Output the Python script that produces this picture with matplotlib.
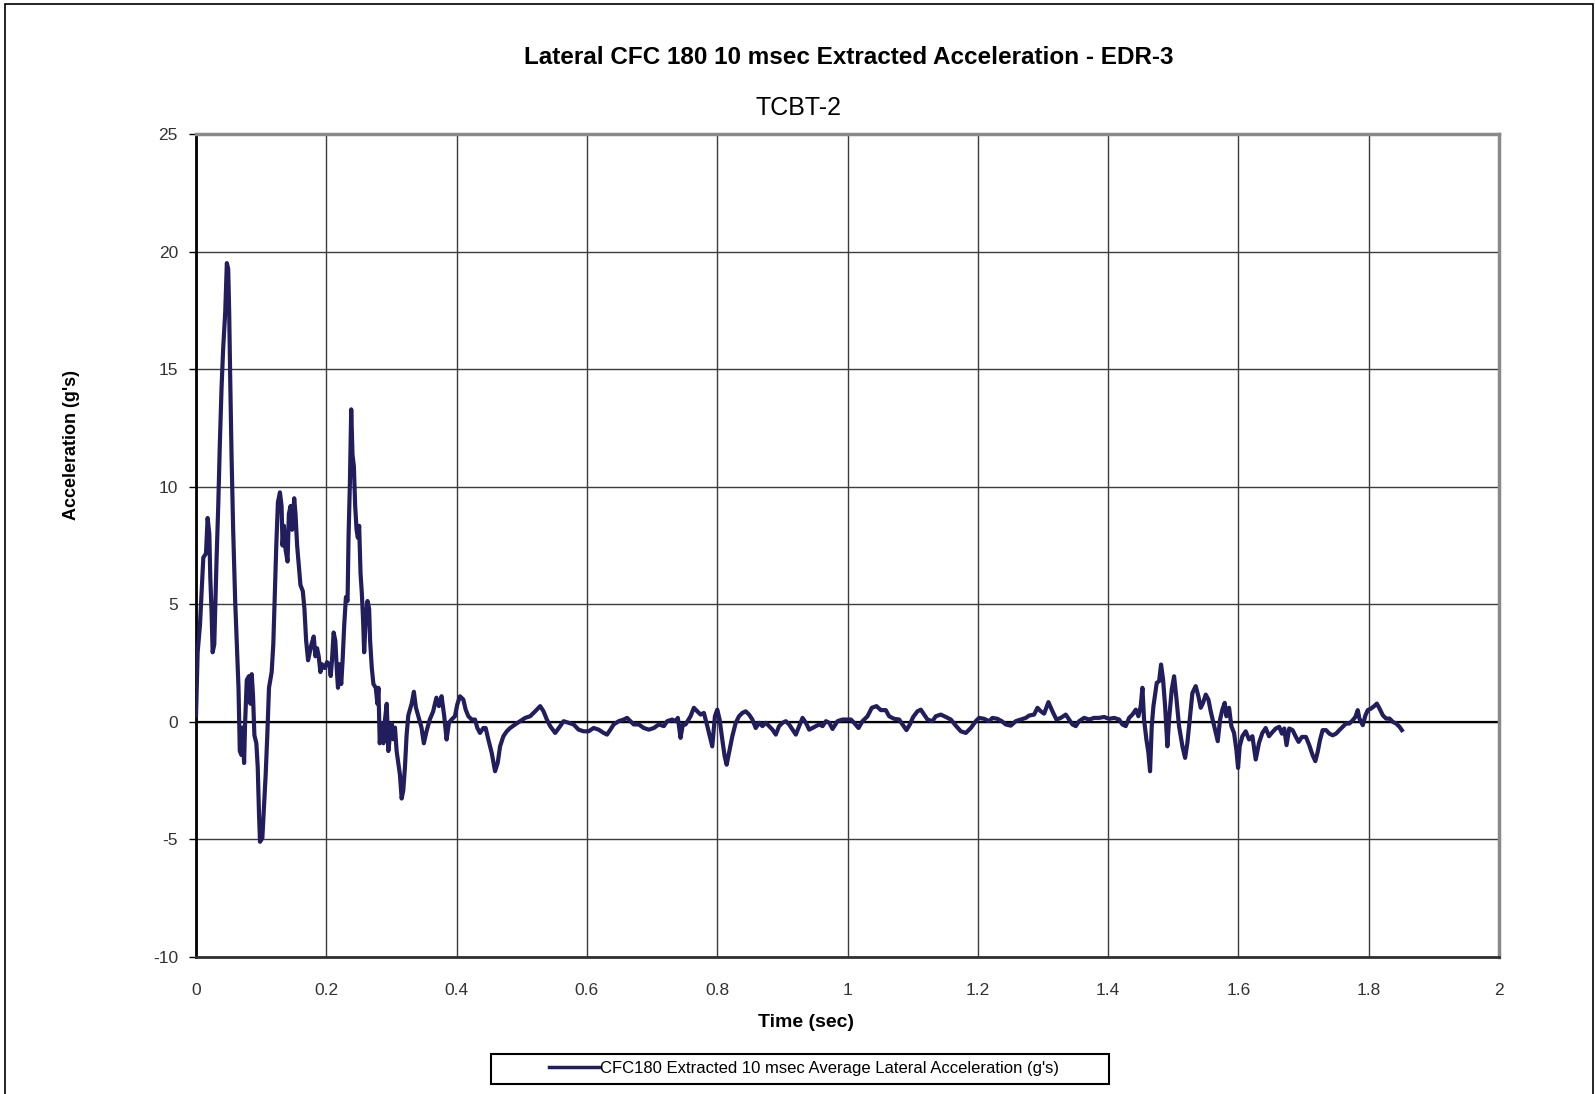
import matplotlib
matplotlib.use('Agg')
import matplotlib.pyplot as plt
from matplotlib.patches import Rectangle

plt.rcParams['font.family'] = ['Liberation Sans', 'DejaVu Sans']

# trace (time in s, acceleration in g's)
time_s = [
    0.0, 0.0025, 0.0061, 0.0092, 0.0112, 0.0153, 0.0178, 0.0204, 0.0219, 0.0239,
    0.0255, 0.028, 0.0295, 0.0316, 0.0341, 0.0366, 0.0392, 0.0417, 0.0448, 0.0473,
    0.0494, 0.0509, 0.0524, 0.0545, 0.057, 0.0601, 0.0626, 0.0652, 0.0672, 0.0697,
    0.0713, 0.0738, 0.0753, 0.0779, 0.0814, 0.0835, 0.0855, 0.0875, 0.0896, 0.0926,
    0.0947, 0.0967, 0.0982, 0.1018, 0.1043, 0.1069, 0.1094, 0.112, 0.1161, 0.1186,
    0.1206, 0.1232, 0.1257, 0.1288, 0.1313, 0.1328, 0.1349, 0.1374, 0.1405, 0.1425,
    0.1451, 0.1476, 0.1507, 0.1527, 0.1552, 0.1578, 0.1603, 0.1639, 0.1664, 0.169,
    0.172, 0.1746, 0.1771, 0.1807, 0.1832, 0.1858, 0.1883, 0.1909, 0.1934, 0.1975,
    0.2011, 0.2046, 0.2067, 0.2087, 0.2112, 0.2138, 0.2163, 0.2179, 0.2199, 0.2229,
    0.225, 0.2275, 0.2301, 0.2326, 0.2341, 0.2362, 0.2382, 0.2402, 0.2423, 0.2443,
    0.2464, 0.2484, 0.2504, 0.2525, 0.2545, 0.2565, 0.2581, 0.2606, 0.2632, 0.2657,
    0.2672, 0.2698, 0.2723, 0.2759, 0.2784, 0.28, 0.282, 0.285, 0.2876, 0.2901,
    0.2927, 0.2952, 0.2978, 0.3003, 0.3029, 0.3054, 0.3079, 0.3105, 0.313, 0.3156,
    0.3181, 0.3207, 0.3232, 0.3258, 0.3309, 0.3344, 0.3375, 0.341, 0.3461, 0.3497,
    0.3538, 0.3588, 0.3639, 0.369,
    0.3728, 0.3769, 0.381, 0.3846, 0.3882, 0.3923, 0.3974, 0.401, 0.4051, 0.4103,
    0.4139, 0.418, 0.4231, 0.4282, 0.4318, 0.4359, 0.441, 0.4446, 0.4487, 0.4539,
    0.459, 0.4631, 0.4667, 0.4718, 0.477, 0.4821, 0.4898, 0.4975, 0.5052, 0.5129,
    0.5206, 0.5283, 0.5334, 0.5385, 0.5436, 0.5513, 0.559, 0.5642, 0.5719, 0.5796,
    0.5872, 0.5949, 0.6026, 0.6103, 0.618, 0.6257, 0.6309, 0.636, 0.6411, 0.6488,
    0.6565, 0.6616, 0.6668, 0.6719, 0.6796, 0.6873, 0.695, 0.7027, 0.7104, 0.7181,
    0.7232, 0.7309, 0.736, 0.7396, 0.7437, 0.7473, 0.7514, 0.7591, 0.7642, 0.7694,
    0.7745, 0.7796, 0.7848, 0.7899, 0.7924, 0.7965, 0.8001, 0.8037, 0.8078, 0.8114,
    0.8145, 0.8181, 0.8232, 0.8284, 0.8335, 0.8386, 0.8437, 0.8489, 0.854, 0.8591,
    0.8643, 0.8694, 0.8745, 0.8797, 0.8848, 0.8899, 0.895, 0.9002, 0.9053, 0.9104,
    0.9156, 0.9207, 0.9258, 0.931, 0.9361, 0.9412, 0.9463, 0.9515, 0.9566, 0.9617,
    0.9669, 0.972,
    0.977, 0.9847, 0.9923, 1.0, 1.0051, 1.0102, 1.0169, 1.023, 1.0307, 1.0373,
    1.0445, 1.0512, 1.0588, 1.0639, 1.0716, 1.0793, 1.0844, 1.0905, 1.0957, 1.1008,
    1.1074, 1.1125, 1.1176, 1.1228, 1.1304, 1.1355, 1.1432, 1.1509, 1.1586, 1.1662,
    1.1739, 1.1816, 1.1893, 1.1969, 1.202, 1.2097, 1.2174, 1.2225, 1.2302, 1.2368,
    1.243, 1.2506, 1.2583, 1.266, 1.2737, 1.2788, 1.2864, 1.2916, 1.2967, 1.3018,
    1.3084, 1.3146, 1.3207, 1.3274, 1.335, 1.3401, 1.3453, 1.3504, 1.3555, 1.3632,
    1.3708, 1.3785, 1.3862, 1.3939, 1.4015, 1.4092, 1.4169, 1.422, 1.4271, 1.4322,
    1.4373, 1.4425, 1.4465, 1.4501, 1.4527, 1.4552, 1.4588, 1.4619, 1.4644, 1.467,
    1.4696, 1.4721, 1.4747, 1.4783, 1.4813, 1.4844, 1.4875, 1.491, 1.4936, 1.4977,
    1.5013, 1.5048, 1.5089, 1.5141, 1.5182, 1.5217, 1.5253, 1.5294, 1.5345, 1.5386,
    1.5422, 1.5458, 1.5499, 1.554, 1.5575, 1.5616, 1.5652, 1.5683, 1.5719, 1.5754,
    1.579, 1.5816, 1.5857, 1.5892, 1.5933, 1.5969, 1.5995, 1.602, 1.6061, 1.6112,
    1.6164, 1.6215, 1.6266, 1.6317, 1.6368, 1.6419, 1.647,
    1.6524, 1.6575, 1.6627, 1.6668, 1.6704, 1.6739, 1.678, 1.6832, 1.6883, 1.6924,
    1.6975, 1.7037, 1.7088, 1.714, 1.7181, 1.7217, 1.7252, 1.7293, 1.7345, 1.7396,
    1.7447, 1.7499, 1.755, 1.7601, 1.7652, 1.7704, 1.7755, 1.7796, 1.7832, 1.7858,
    1.7909, 1.795, 1.7986, 1.8037, 1.8089, 1.8125, 1.8166, 1.8217, 1.8268, 1.832,
    1.8371, 1.8422, 1.8473, 1.8509,
]
accel_g = [
    0.27, 2.96, 4.13, 5.82, 6.99, 7.16, 8.67, 8.0, 6.15, 4.64,
    2.96, 3.29, 4.81, 6.99, 9.18, 11.87, 14.22, 15.9, 17.41, 19.51,
    19.26, 17.41, 14.72, 11.36, 8.17, 5.14, 3.29, 1.45, -1.24, -1.41,
    -0.24, -1.75, -0.07, 1.78, 1.95, 0.77, 2.03, 1.11, -0.57, -0.91,
    -1.92, -3.93, -5.1, -4.94, -3.6, -2.25, -0.57, 1.45, 2.12, 3.29,
    5.14, 7.5, 9.34, 9.76, 9.18, 7.5, 8.34, 7.33, 6.82, 8.84,
    9.18, 8.17, 9.51, 8.84, 7.5, 6.66, 5.82, 5.56, 4.81, 3.46,
    2.62, 2.96, 3.29, 3.63, 2.79, 3.13, 2.79, 2.12, 2.45, 2.29,
    2.54, 2.45, 1.95, 2.62, 3.8, 3.46, 2.12, 1.45, 2.45, 1.61,
    2.62, 4.13, 5.31, 5.14, 7.83, 10.18, 13.29, 11.36, 10.86, 9.18,
    8.17, 7.83, 8.34, 6.32, 5.48, 4.3, 2.96, 4.47, 5.14, 4.81,
    3.46, 2.29, 1.61, 1.45, 0.77, 1.45, -0.91, -0.07, -0.91, 0.1,
    0.77, -1.24, -0.57, -0.07, -0.74, -0.24, -1.24, -1.75, -2.25, -3.26,
    -2.92, -1.92, -0.57, 0.27, 0.77, 1.28, 0.61, 0.27, -0.24, -0.91,
    -0.4, 0.1, 0.44, 1.03,
    0.67, 1.09, 0.24, -0.75, -0.04, 0.1, 0.24, 0.74, 1.09, 0.95,
    0.52, 0.24, 0.1, 0.1, -0.26, -0.47, -0.26, -0.26, -0.75, -1.32,
    -2.1, -1.74, -1.04, -0.61, -0.4, -0.26, -0.11, 0.03, 0.17, 0.24,
    0.45, 0.67, 0.45, 0.1, -0.18, -0.47, -0.18, 0.03, -0.04, -0.11,
    -0.33, -0.4, -0.4, -0.26, -0.33, -0.47, -0.54, -0.33, -0.11, 0.03,
    0.1, 0.17, 0.03, -0.11, -0.11, -0.26, -0.33, -0.26, -0.11, -0.18,
    0.03, 0.1, 0.03, 0.17, -0.68, -0.11, -0.11, 0.24, 0.6, 0.45,
    0.31, 0.38, -0.18, -0.75, -1.04, 0.24, 0.52, 0.1, -0.75, -1.46,
    -1.82, -1.32, -0.61, -0.04, 0.24, 0.38, 0.45, 0.31, 0.1, -0.26,
    -0.04, -0.18, -0.04, -0.18, -0.33, -0.54, -0.18, -0.04, 0.03, -0.11,
    -0.33, -0.54, -0.18, 0.17, -0.04, -0.33, -0.26, -0.18, -0.11, -0.18,
    0.03, -0.04,
    -0.3, 0.03, 0.1, 0.1, 0.1, -0.04, -0.26, 0.03, 0.24, 0.6,
    0.67, 0.5, 0.5, 0.24, 0.13, 0.1, -0.11, -0.35, -0.11, 0.21,
    0.45, 0.52, 0.31, 0.1, 0.03, 0.24, 0.31, 0.21, 0.1, -0.16,
    -0.4, -0.47, -0.26, 0.03, 0.17, 0.13, 0.03, 0.17, 0.13, 0.03,
    -0.11, -0.16, 0.03, 0.1, 0.17, 0.27, 0.31, 0.6, 0.45, 0.35,
    0.84, 0.45, 0.1, 0.17, 0.31, 0.1, -0.11, -0.18, 0.03, 0.17,
    0.1, 0.17, 0.17, 0.21, 0.13, 0.17, 0.1, -0.11, -0.18, 0.17,
    0.31, 0.52, 0.24, 0.67, 1.45, 0.1, -0.75, -1.32, -2.1, -0.18,
    0.67, 1.16, 1.66, 1.73, 2.44, 1.8, 0.67, -1.04, 0.1, 1.38,
    1.94, 1.02, -0.18, -1.04, -1.53, -0.89, 0.1, 1.23, 1.52, 1.09,
    0.6, 0.81, 1.16, 0.95, 0.45, -0.04, -0.47, -0.82, 0.1, 0.52,
    0.81, 0.24, 0.6, -0.18, -0.47, -1.18, -1.96, -1.04, -0.61, -0.4,
    -0.75, -0.61, -1.6, -0.89, -0.47, -0.26, -0.61,
    -0.43, -0.28, -0.21, -0.5, -0.28, -0.99, -0.28, -0.35, -0.64, -0.85,
    -0.64, -0.64, -0.99, -1.42, -1.67, -1.28, -0.78, -0.35, -0.35, -0.5,
    -0.57, -0.5, -0.35, -0.21, -0.07, -0.07, 0.07, 0.21, 0.5, 0.14,
    -0.14, 0.28, 0.5, 0.57, 0.68, 0.78, 0.57, 0.28, 0.14, 0.14,
    0.0, -0.07, -0.21, -0.35,
]

x_ticks = [0, 0.2, 0.4, 0.6, 0.8, 1, 1.2, 1.4, 1.6, 1.8, 2]
x_labels = ['0', '0.2', '0.4', '0.6', '0.8', '1', '1.2', '1.4', '1.6', '1.8', '2']
y_ticks = [-10, -5, 0, 5, 10, 15, 20, 25]
y_labels = ['-10', '-5', '0', '5', '10', '15', '20', '25']

series_name = "CFC180 Extracted 10 msec Average Lateral Acceleration (g's)"
line_color = '#221d5c'

fig = plt.figure(figsize=(15.95, 10.94), dpi=100)
ax = fig.add_axes([0.1229, 0.1252, 0.8169, 0.7523])

ax.plot(time_s, accel_g, color=line_color, lw=3.0, label=series_name, zorder=3)

ax.set_xlim(0, 2)
ax.set_ylim(-10, 25)
ax.set_xticks(x_ticks)
ax.set_xticklabels(x_labels)
ax.set_yticks(y_ticks)
ax.set_yticklabels(y_labels)
ax.grid(True, color='#3c3c3c', lw=1.0, zorder=1)
ax.axhline(0, color='black', lw=1.6, zorder=2)

for side in ['top', 'right']:
    ax.spines[side].set_color('#8a8a8a')
    ax.spines[side].set_linewidth(2.5)
ax.spines['left'].set_color('black')
ax.spines['left'].set_linewidth(2.0)
ax.spines['bottom'].set_color('#303030')
ax.spines['bottom'].set_linewidth(2.0)

ax.tick_params(axis='y', direction='out', length=5, width=1, labelsize=12.5,
               labelcolor='#333333', pad=8)
ax.tick_params(axis='x', length=0, labelsize=12.5, labelcolor='#333333', pad=19)

# axis titles sit off-centre in the reference, so place them on the figure
fig.text(0.5055, 0.0658, 'Time (sec)', ha='center', va='center',
         fontsize=14, fontweight='bold')
fig.text(0.0447, 0.593, "Acceleration (g's)", ha='center', va='center',
         rotation=90, fontsize=13, fontweight='bold')

fig.text(0.532, 0.947, 'Lateral CFC 180 10 msec Extracted Acceleration - EDR-3',
         ha='center', va='center', fontsize=17.5, fontweight='bold')
fig.text(0.5005, 0.901, 'TCBT-2', ha='center', va='center', fontsize=18)

leg = fig.legend(loc='center', bbox_to_anchor=(0.504, 0.0235), fontsize=12,
                 frameon=False, handlelength=3.0, handletextpad=0.1)
for h in leg.get_lines():
    h.set_linewidth(2.5)
fig.patches.append(Rectangle((0.3078, 0.0091), 0.3875, 0.0279, transform=fig.transFigure,
                             fill=False, edgecolor='black', lw=1.5))

fig.patches.append(Rectangle((0.003, -0.01), 0.9955, 1.0063, transform=fig.transFigure,
                             fill=False, edgecolor='black', lw=1.2))

fig.savefig('out.png', dpi=100)
